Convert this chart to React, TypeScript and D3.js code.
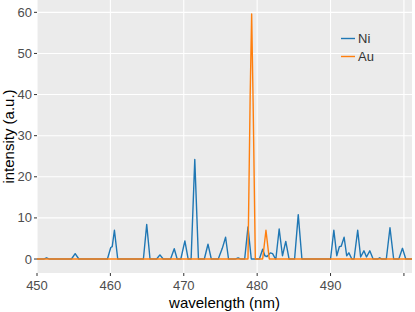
import React from "react";
import * as d3 from "d3";

// spectrum points [wavelength (nm), intensity (a.u.)]
const niPoints: [number, number][] = [
  [450, 0],
  [450.9, 0], [451.3, 0.3], [451.7, 0],
  [454.7, 0], [455.2, 1.3], [455.7, 0],
  [459.6, 0], [460.05, 2.8], [460.25, 3.0], [460.55, 7.0], [461.0, 0],
  [464.5, 0], [464.95, 8.4], [465.4, 0],
  [466.3, 0], [466.75, 1.0], [467.2, 0],
  [468.2, 0], [468.7, 2.5], [469.1, 0],
  [469.6, 0], [470.15, 4.4], [470.6, 0],
  [471.0, 0], [471.5, 24.2], [472.0, 0],
  [472.8, 0], [473.3, 3.6], [473.75, 0],
  [474.7, 0], [475.25, 2.6], [475.7, 5.3], [476.1, 0],
  [477.0, 0], [477.4, 0.3], [477.8, 0],
  [478.3, 0], [478.75, 7.8], [479.2, 0],
  [480.3, 0], [480.75, 2.4], [481.05, 0.8], [481.35, 0.6], [481.8, 1.5], [482.1, 1.3], [482.5, 0],
  [482.55, 0], [483.0, 7.3], [483.45, 0.8], [483.9, 4.3], [484.35, 0],
  [485.1, 0], [485.6, 10.8], [486.1, 0],
  [490.0, 0], [490.45, 7.0], [490.85, 0.8], [491.2, 3.0], [491.45, 3.1], [491.85, 5.3], [492.2, 0.8], [492.5, 1.5], [492.9, 0],
  [493.2, 0], [493.7, 7.0], [494.1, 0.5], [494.55, 2.0], [494.9, 0.5], [495.35, 2.0], [495.8, 0],
  [496.4, 0], [496.7, 0.3], [497.0, 0],
  [497.6, 0], [498.1, 7.6], [498.6, 0],
  [499.3, 0], [499.8, 2.6], [500.25, 0],
  [501.1, 0],
];

const auPoints: [number, number][] = [
  [450, 0], [478.75, 0], [479.05, 40], [479.25, 59.6], [479.45, 38], [479.75, 0],
  [480.75, 0], [481.2, 7.0], [481.65, 0], [501.1, 0],
];

const seriesNames = ["Ni", "Au"];
const seriesColors = ["#1f77b4", "#ff7f0e"];
const xTicks = [450, 460, 470, 480, 490, 500];
const xTickLabels = ["450", "460", "470", "480", "490", ""];
const yTicks = [0, 10, 20, 30, 40, 50, 60];

const W = 415;
const H = 312;
const panel = { left: 37, right: 412, top: 0, bottom: 273 };
const font = "'Liberation Sans', Arial, sans-serif";

export default function App() {
  const x = d3.scaleLinear().domain([450, 501.1]).range([panel.left, panel.right]);
  const y = d3.scaleLinear().domain([-3.4, 63]).range([panel.bottom, panel.top]);

  const line = d3
    .line<[number, number]>()
    .x((d) => x(d[0]))
    .y((d) => y(d[1]));

  const series = [niPoints, auPoints];

  return (
    <svg
      width={W}
      height={H}
      style={{ position: "absolute", left: 0, top: 0, fontFamily: font }}
    >
      <rect width={W} height={H} fill="#ffffff" />
      {/* panel */}
      <rect
        x={panel.left}
        y={panel.top}
        width={panel.right - panel.left}
        height={panel.bottom - panel.top}
        fill="#ebebeb"
      />
      {/* grid */}
      {xTicks.map((t) => (
        <line key={"gx" + t} x1={x(t)} x2={x(t)} y1={panel.top} y2={panel.bottom} stroke="#fff" strokeWidth={1.1} />
      ))}
      {yTicks.map((t) => (
        <line key={"gy" + t} x1={panel.left} x2={panel.right} y1={y(t)} y2={y(t)} stroke="#fff" strokeWidth={1.1} />
      ))}

      {/* lines */}
      {series.map((s, i) => (
        <path
          key={seriesNames[i]}
          d={line(s) ?? ""}
          fill="none"
          stroke={seriesColors[i]}
          strokeWidth={1.4}
          strokeLinejoin="round"
        />
      ))}

      {/* y axis */}
      {yTicks.map((t) => (
        <g key={"ty" + t}>
          <line x1={panel.left - 3} x2={panel.left} y1={y(t)} y2={y(t)} stroke="#333" strokeWidth={1} />
          <text x={panel.left - 5} y={y(t)} dy="0.35em" textAnchor="end" fontSize={13} fill="#4d4d4d">
            {t}
          </text>
        </g>
      ))}
      {/* x axis */}
      {xTicks.map((t, i) => (
        <g key={"tx" + t}>
          <line x1={x(t)} x2={x(t)} y1={panel.bottom} y2={panel.bottom + 3} stroke="#333" strokeWidth={1} />
          <text x={x(t)} y={panel.bottom + 17} textAnchor="middle" fontSize={13} fill="#4d4d4d">
            {xTickLabels[i]}
          </text>
        </g>
      ))}

      {/* axis titles */}
      <text x={(panel.left + panel.right) / 2} y={308} textAnchor="middle" fontSize={15} fill="#000">
        wavelength (nm)
      </text>
      <text
        transform={`translate(14, ${(panel.top + panel.bottom) / 2}) rotate(-90)`}
        textAnchor="middle"
        fontSize={15}
        fill="#000"
      >
        intensity (a.u.)
      </text>

      {/* legend */}
      {seriesNames.map((n, i) => (
        <g key={"lg" + n} transform={`translate(341, ${38.5 + i * 18})`}>
          <line x1={0} x2={14} y1={0} y2={0} stroke={seriesColors[i]} strokeWidth={1.4} />
          <text x={17} y={0} dy="0.35em" fontSize={13} fill="#333">
            {n}
          </text>
        </g>
      ))}
    </svg>
  );
}
